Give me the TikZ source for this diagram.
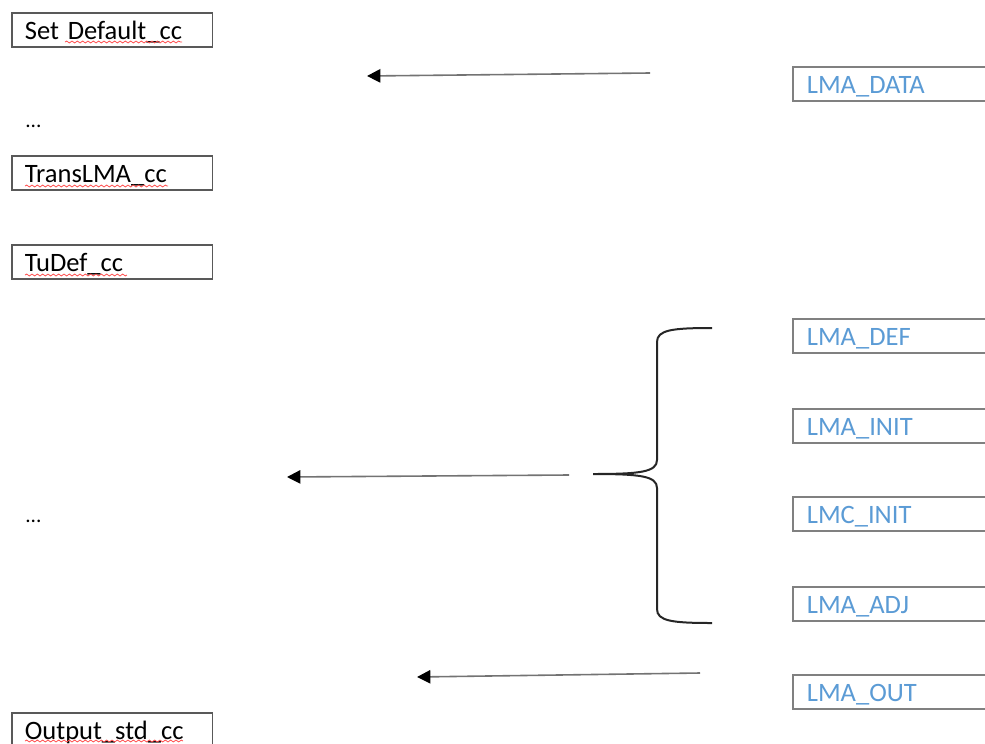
\documentclass[tikz,border=0pt]{standalone}
\usepackage{fontspec}
\setmainfont{Carlito}
\usetikzlibrary{arrows.meta,decorations.pathmorphing}
\definecolor{lmablue}{HTML}{5B9BD5}

\begin{document}
\begin{tikzpicture}[x=0.75pt,y=-0.75pt,
        cc/.style={draw=black!65,line width=1.3pt,anchor=north west,
                   minimum height=25.5pt,text width=131pt,inner xsep=9.75pt,
                   inner ysep=0pt,text height=16pt,text depth=2pt,
                   align=left,font=\fontsize{19.9}{24}\selectfont},
        lma/.style={cc,draw=black!50,text=lmablue,text width=140pt,inner xsep=10.5pt},
        dots/.style={anchor=base west,inner sep=0pt,font=\fontsize{16}{20}\selectfont},
        flow/.style={-{Triangle[length=10pt,width=10pt,color=black]},black!55,line width=1.2pt},
        squiggle/.style={red!70,line width=0.6pt,decorate,
                         decoration={snake,segment length=4pt,amplitude=0.7pt}}
      ]
        \useasboundingbox (0,0) rectangle (985,743);
        \clip (0,0) rectangle (985,743);
        \node[cc] (setdef) at (11,12) {Set Default\_cc};
        \node[dots] (dotsa) at (25,127) {...};
        \node[cc] (translma) at (11,155) {TransLMA\_cc};
        \node[cc] (tudef) at (11,244) {TuDef\_cc};
        \node[dots] (dotsb) at (25,522) {...};
        \node[cc] (outstd) at (11,712) {Output\_std\_cc};
        \node[lma] (lmadata) at (792,66) {LMA\_DATA};
        \node[lma] (lmadef) at (792,318) {LMA\_DEF};
        \node[lma] (lmainit) at (792,408) {LMA\_INIT};
        \node[lma] (lmcinit) at (792,496) {LMC\_INIT};
        \node[lma] (lmaadj) at (792,586) {LMA\_ADJ};
        \node[lma] (lmaout) at (792,674) {LMA\_OUT};
        \coordinate (datafrom) at (650,73);
        \coordinate (datato) at (367,76);
        \coordinate (midfrom) at (569,475);
        \coordinate (midto) at (287,477);
        \coordinate (outfrom) at (700,673);
        \coordinate (outto) at (417,677);
        \coordinate (bracetop) at (712,328);
        \coordinate (bracetip) at (593,474);
        \coordinate (bracebot) at (712,623);
        \draw[flow] (datafrom) -- (datato);
        \draw[flow] (midfrom) -- (midto);
        \draw[flow] (outfrom) -- (outto);
        \draw[black!85,line width=1.5pt]
  (bracetop) .. controls (672,328) and (657,330) .. (657,342) -- (657,460)
  .. controls (657,472) and (640,474) .. (bracetip)
  .. controls (640,474) and (657,476) .. (657,488) -- (657,609)
  .. controls (657,621) and (672,623) .. (bracebot);
        \draw[squiggle] (65,42) -- (182,42);
        \draw[squiggle] (25,186) -- (168,186);
        \draw[squiggle] (25,275) -- (127,275);
        \draw[squiggle] (25,741) -- (183,741);
      \end{tikzpicture}
\end{document}
